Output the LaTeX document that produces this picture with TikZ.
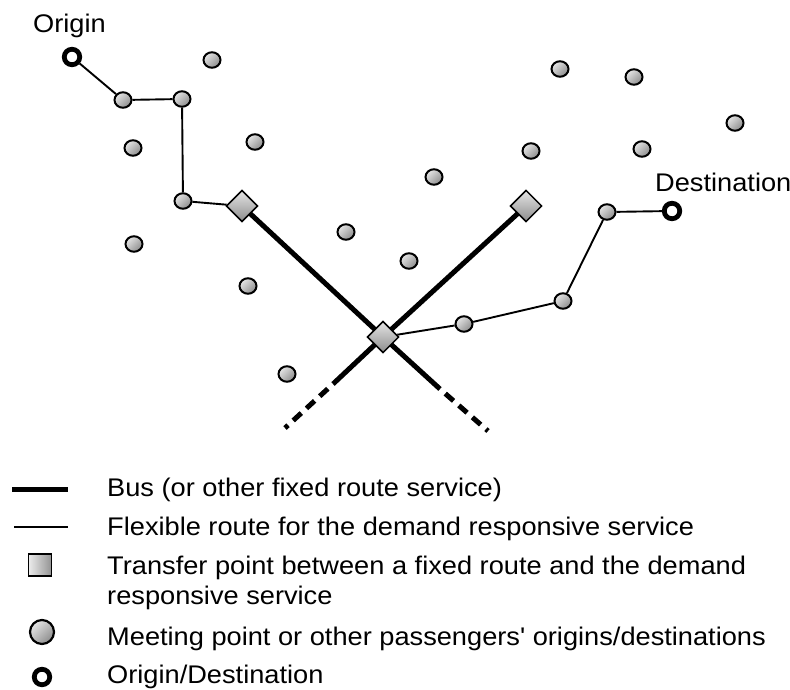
\documentclass[tikz,border=0pt]{standalone}
\usepackage{fontspec}
\setmainfont{Liberation Sans}
\usetikzlibrary{shapes.geometric,backgrounds}

\tikzset{
  meet/.style={ellipse, minimum width=17pt, minimum height=15.5pt, inner sep=0pt,
    draw=black, line width=2pt, left color=gray!20, right color=gray!90, shading angle=45},
  odpoint/.style={circle, minimum size=15.5pt, inner sep=0pt, draw=black,
    line width=4.8pt, fill=white},
  transfer/.style={rectangle, rotate=45, minimum size=22pt, inner sep=0pt,
    draw=black, line width=1.5pt, top color=gray!20, bottom color=gray!90},
  bus/.style={line width=5pt, black},
  busdash/.style={line width=5pt, black, dash pattern=on 11pt off 7pt, dash phase=11pt},
  flex/.style={line width=1.9pt, black},
  lbl/.style={font=\fontsize{25.5}{30}\selectfont, inner sep=0pt, xscale=1.067},
}

\begin{document}
\begin{tikzpicture}[x=1pt, y=-1pt]
\useasboundingbox (0,0) rectangle (790,690);

% origin and destination
\node[odpoint] (orig) at (72,57) {};
\node[odpoint] (dest) at (672,211) {};
\node[lbl, anchor=base west] (origlbl) at (33,33) {Origin};
\node[lbl, anchor=base west] (destlbl) at (655,192) {Destination};

% transfer points
\node[transfer] (tA) at (242,206) {};
\node[transfer] (tB) at (526,206) {};
\node[transfer] (tC) at (383,337) {};

% meeting points on the flexible routes
\node[meet] (m1) at (123,100) {};
\node[meet] (m2) at (182,99) {};
\node[meet] (m3) at (183,201) {};
\node[meet] (m4) at (464,324) {};
\node[meet] (m5) at (563,301) {};
\node[meet] (m6) at (607,212) {};

% other meeting points
\node[meet] (p1) at (212,60) {};
\node[meet] (p2) at (133,148) {};
\node[meet] (p3) at (255,142) {};
\node[meet] (p4) at (134,244) {};
\node[meet] (p5) at (248,286) {};
\node[meet] (p6) at (346,232) {};
\node[meet] (p7) at (409,261) {};
\node[meet] (p8) at (287,374) {};
\node[meet] (p9) at (434,177) {};
\node[meet] (p10) at (531,151) {};
\node[meet] (p11) at (560,69) {};
\node[meet] (p12) at (634,77) {};
\node[meet] (p13) at (642,149) {};
\node[meet] (p14) at (735,123) {};

% ends of the bus lines
\coordinate (eA) at (440,389);
\coordinate (fA) at (488,431);
\coordinate (eB) at (333,384);
\coordinate (fB) at (285,428);

\begin{pgfonlayer}{background}
  \draw[bus] (tA.center) -- (tC.center) -- (eA);
  \draw[busdash] (eA) -- (fA);
  \draw[bus] (tB.center) -- (tC.center) -- (eB);
  \draw[busdash] (eB) -- (fB);
  \draw[flex] (orig) -- (m1) -- (m2) -- (m3) -- (tA);
  \draw[flex] (tC) -- (m4) -- (m5) -- (m6) -- (dest);
\end{pgfonlayer}

% legend
\coordinate (k1a) at (12,489);
\coordinate (k1b) at (68,489);
\coordinate (k2a) at (14,527);
\coordinate (k2b) at (68,527);
\draw[bus] (k1a) -- (k1b);
\draw[flex] (k2a) -- (k2b);
\node[rectangle, minimum width=23pt, minimum height=22pt, inner sep=0pt, draw=black,
  line width=1.5pt, left color=gray!15, right color=gray!85] (k3) at (40,565) {};
\node[meet, minimum width=24pt, minimum height=24pt, line width=2.2pt] (k4) at (42,632) {};
\node[odpoint] (k5) at (42,677) {};

\node[lbl, anchor=base west] (t1) at (107,496) {Bus (or other fixed route service)};
\node[lbl, anchor=base west] (t2) at (107,535) {Flexible route for the demand responsive service};
\node[lbl, anchor=base west] (t3) at (107,574) {Transfer point between a fixed route and the demand};
\node[lbl, anchor=base west] (t3b) at (107,604) {responsive service};
\node[lbl, anchor=base west] (t4) at (107,645) {Meeting point or other passengers\textquotesingle\ origins/destinations};
\node[lbl, anchor=base west] (t5) at (107,683) {Origin/Destination};
\end{tikzpicture}
\end{document}
